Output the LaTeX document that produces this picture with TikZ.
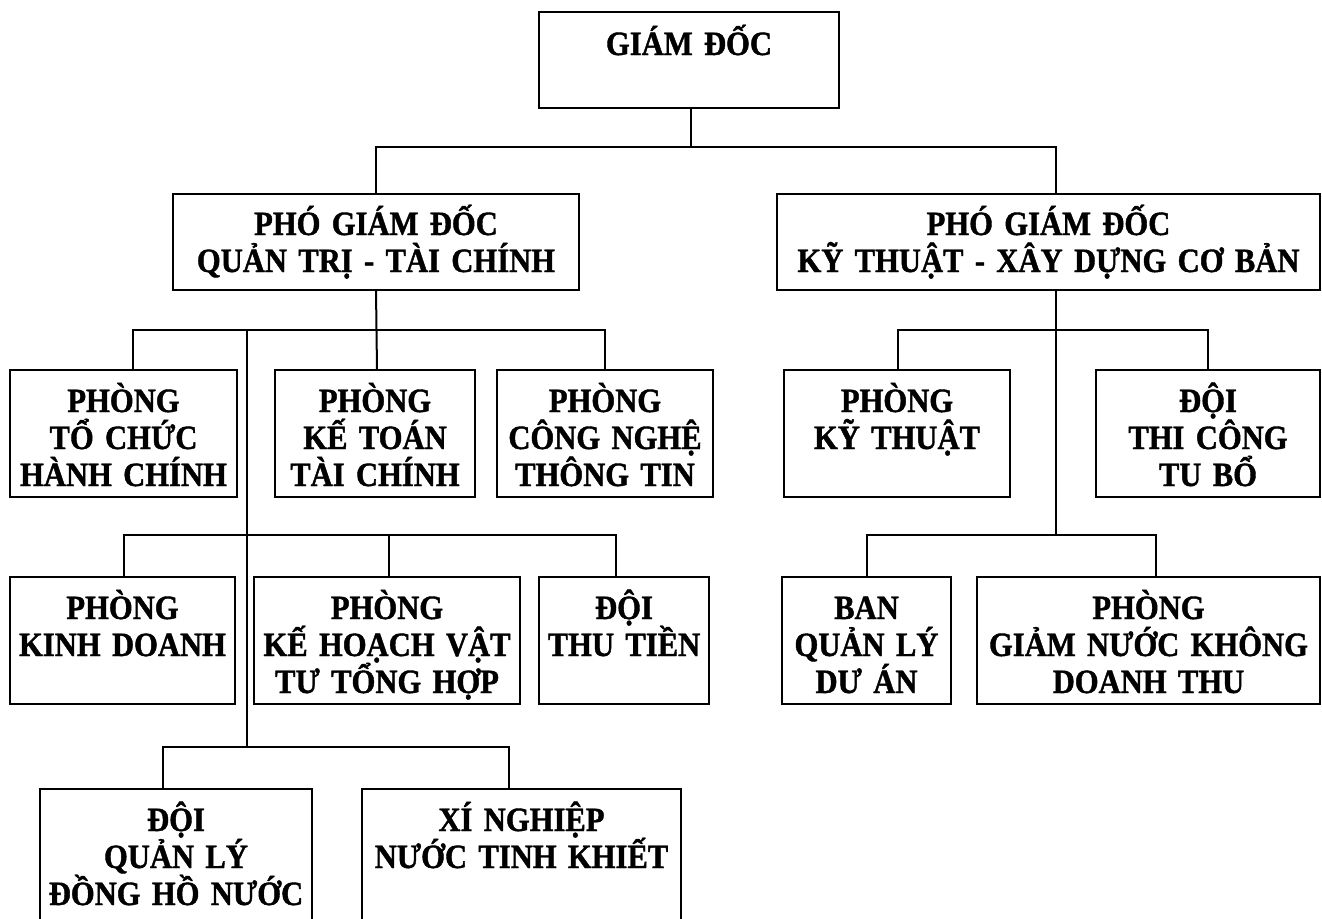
\documentclass[tikz,border=0pt]{standalone}
\usepackage{fontspec}
\setmainfont{Liberation Serif}
\newfontfamily\orgfont[FakeStretch=0.9,FakeBold=1.2]{Liberation Serif}
\usetikzlibrary{fit}
\tikzset{
  orgbox/.style={draw, line width=2.8pt, inner sep=0pt, outer sep=0pt},
  conn/.style={line width=2pt},
  txt/.style={font=\orgfont\fontsize{34}{37}\selectfont\bfseries, align=center, text width=600pt, inner sep=0pt, anchor=base}
}
\begin{document}
\begin{tikzpicture}[x=1pt,y=-1pt]
\clip (0,0) rectangle (1322,918);
\fill[white] (0,0) rectangle (1322,918);
% boxes
\node[orgbox, fit={(539,12) (839,108)}] (gd) {};
\node[orgbox, fit={(173,194) (579,290)}] (pl) {};
\node[orgbox, fit={(777,194) (1320,290)}] (pr) {};
\node[orgbox, fit={(10,370) (237,497)}] (a1) {};
\node[orgbox, fit={(275,370) (475,497)}] (a2) {};
\node[orgbox, fit={(497,370) (713,497)}] (a3) {};
\node[orgbox, fit={(10,577) (235,704)}] (b1) {};
\node[orgbox, fit={(254,577) (520,704)}] (b2) {};
\node[orgbox, fit={(539,577) (709,704)}] (b3) {};
\node[orgbox, fit={(40,789) (312,940)}] (c1) {};
\node[orgbox, fit={(362,789) (681,940)}] (c2) {};
\node[orgbox, fit={(784,370) (1010,497)}] (r1) {};
\node[orgbox, fit={(1096,370) (1320,497)}] (r2) {};
\node[orgbox, fit={(782,577) (951,704)}] (s1) {};
\node[orgbox, fit={(977,577) (1320,704)}] (s2) {};
% texts
\node[txt] (gdt) at ([yshift=-43pt]gd.north) {GIÁM ĐỐC};
\node[txt] (plt) at ([yshift=-41pt]pl.north) {PHÓ GIÁM ĐỐC\\QUẢN TRỊ - TÀI CHÍNH};
\node[txt] (prt) at ([yshift=-41pt]pr.north) {PHÓ GIÁM ĐỐC\\KỸ THUẬT - XÂY DỰNG CƠ BẢN};
\node[txt] (a1t) at ([yshift=-42pt]a1.north) {PHÒNG\\TỔ CHỨC\\HÀNH CHÍNH};
\node[txt] (a2t) at ([yshift=-42pt]a2.north) {PHÒNG\\KẾ TOÁN\\TÀI CHÍNH};
\node[txt] (a3t) at ([yshift=-42pt]a3.north) {PHÒNG\\CÔNG NGHỆ\\THÔNG TIN};
\node[txt] (b1t) at ([yshift=-42pt]b1.north) {PHÒNG\\KINH DOANH};
\node[txt] (b2t) at ([yshift=-42pt]b2.north) {PHÒNG\\KẾ HOẠCH VẬT\\TƯ TỔNG HỢP};
\node[txt] (b3t) at ([yshift=-42pt]b3.north) {ĐỘI\\THU TIỀN};
\node[txt] (c1t) at ([yshift=-42pt]c1.north) {ĐỘI\\QUẢN LÝ\\ĐỒNG HỒ NƯỚC};
\node[txt] (c2t) at ([yshift=-42pt]c2.north) {XÍ NGHIỆP\\NƯỚC TINH KHIẾT};
\node[txt] (r1t) at ([yshift=-42pt]r1.north) {PHÒNG\\KỸ THUẬT};
\node[txt] (r2t) at ([yshift=-42pt]r2.north) {ĐỘI\\THI CÔNG\\TU BỔ};
\node[txt] (s1t) at ([yshift=-42pt]s1.north) {BAN\\QUẢN LÝ\\DƯ ÁN};
\node[txt] (s2t) at ([yshift=-42pt]s2.north) {PHÒNG\\GIẢM NƯỚC KHÔNG\\DOANH THU};
% junction coordinates
\coordinate (jtop) at (1056,147);
\coordinate (jl1) at (377,330);
\coordinate (jbr) at (247,330);
\coordinate (da1) at (133,330);
\coordinate (da3) at (605,330);
\coordinate (jl2) at (247,535);
\coordinate (db1) at (124,535);
\coordinate (db2) at (389,535);
\coordinate (db3) at (616,535);
\coordinate (jl3) at (247,747);
\coordinate (dc1) at (163,747);
\coordinate (dc2) at (509,747);
\coordinate (jr1) at (1056,330);
\coordinate (dr1) at (898,330);
\coordinate (dr2) at (1208,330);
\coordinate (jr2) at (1056,535);
\coordinate (ds1) at (867,535);
\coordinate (ds2) at (1156,535);
% connectors
\draw[conn] ([xshift=2pt]gd.south) -- ([xshift=2pt]gd.south |- jtop);
\draw[conn] (pl.north) |- (jtop) -- (jtop |- pr.north);
\draw[conn] (pl.south) -- (jl1 |- a2.north);
\draw[conn] (da1 |- a1.north) -- (da1) -- (da3) -- (da3 |- a3.north);
\draw[conn] (jbr) -- (jl3);
\draw[conn] (db1 |- b1.north) -- (db1) -- (db3) -- (db3 |- b3.north);
\draw[conn] (db2) -- (db2 |- b2.north);
\draw[conn] (dc1 |- c1.north) -- (dc1) -- (dc2) -- (dc2 |- c2.north);
\draw[conn] (pr.south -| jr1) -- (jr2);
\draw[conn] (dr1 |- r1.north) -- (dr1) -- (dr2) -- (dr2 |- r2.north);
\draw[conn] (ds1 |- s1.north) -- (ds1) -- (ds2) -- (ds2 |- s2.north);
\end{tikzpicture}
\end{document}
